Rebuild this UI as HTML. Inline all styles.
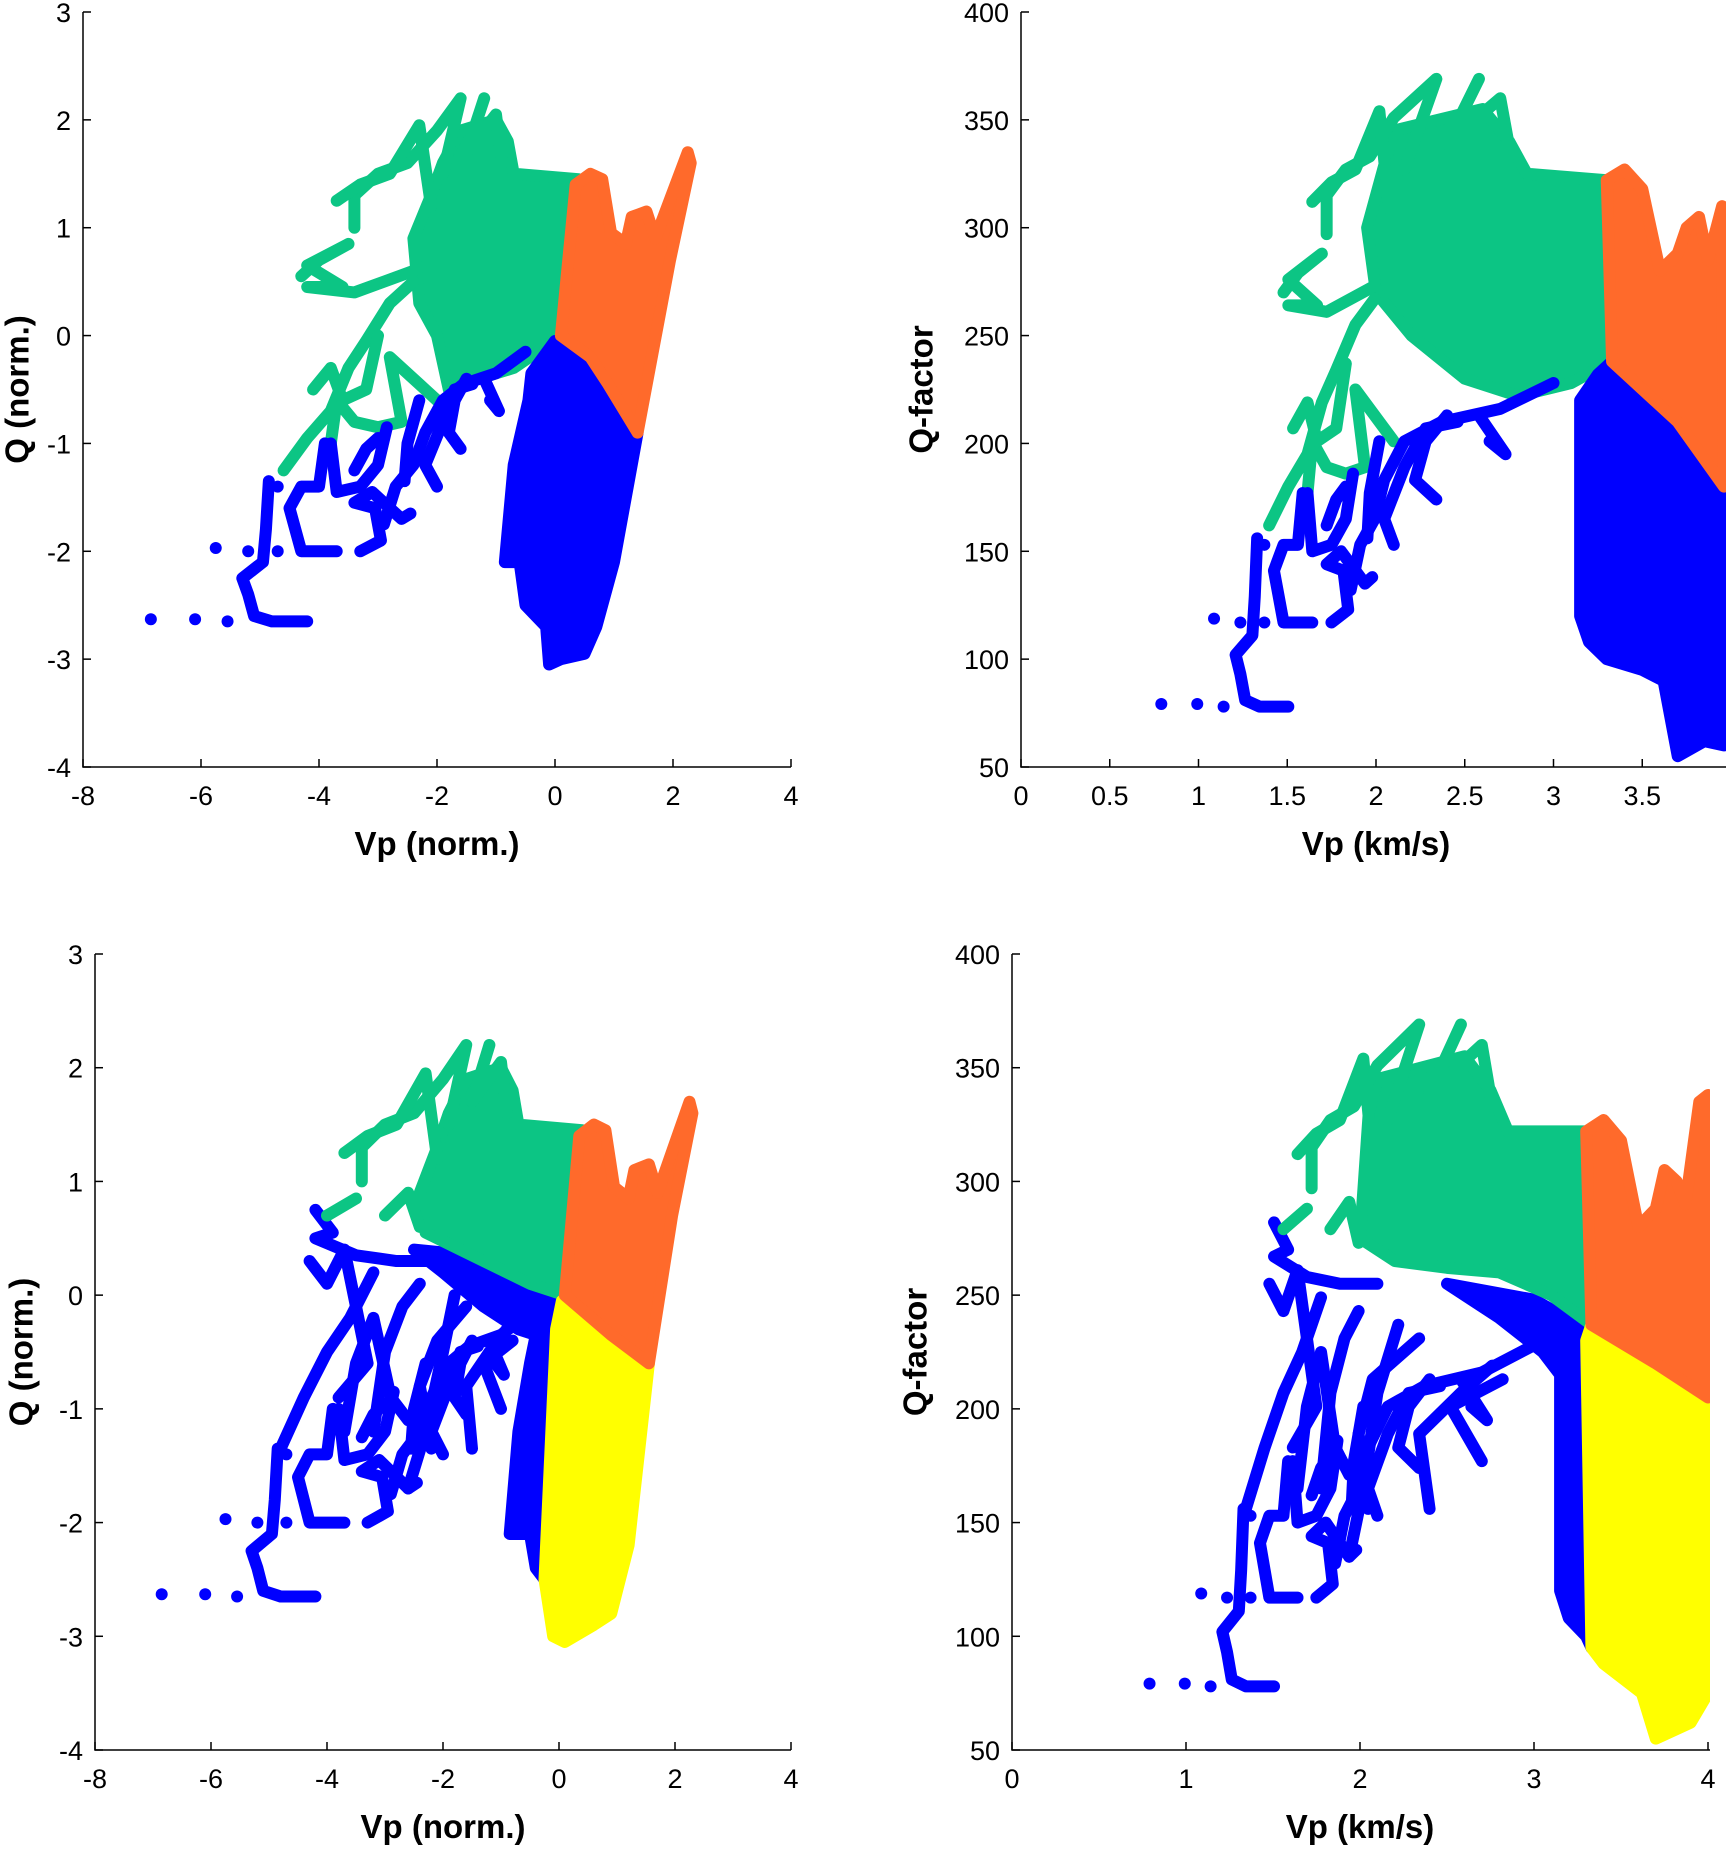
<!DOCTYPE html>
<html><head><meta charset="utf-8"><style>
html,body{margin:0;padding:0;background:#fff}
svg{display:block}
text{font-family:"Liberation Sans",Arial,sans-serif;fill:#000}
</style></head><body>
<svg id="fig" width="1733" height="1857" viewBox="0 0 1733 1857" xmlns="http://www.w3.org/2000/svg"></svg>
<script>
// ===== Data (normalized units: Vp norm, Q norm) =====
const greenPolyTop=[[-1.6,1.9],[-1.0,2.0],[-0.8,1.8],[-0.7,1.5],[0.4,1.45],[0.1,0],[-0.3,-0.15],[-0.7,-0.3],[-1.3,-0.4],[-1.8,-0.5],[-2.0,0],[-2.3,0.3],[-2.4,0.9],[-2.1,1.3],[-1.9,1.6]];
const orangePolyTop=[[0.1,0],[0.35,1.4],[0.6,1.5],[0.8,1.45],[0.95,0.95],[1.2,0.85],[1.3,1.1],[1.55,1.15],[1.7,0.9],[2.25,1.7],[2.3,1.6],[1.95,0.7],[1.4,-0.9],[0.9,-0.45],[0.6,-0.2]];
const bluePolyTop=[[0,-0.05],[0.6,-0.2],[1.4,-0.9],[1.0,-2.1],[0.7,-2.7],[0.5,-2.95],[0.1,-3.0],[-0.1,-3.05],[-0.15,-2.7],[-0.5,-2.5],[-0.6,-2.1],[-0.85,-2.1],[-0.7,-1.2],[-0.45,-0.6],[-0.4,-0.35]];
const greenTrailsTop=[
 [[-4.3,0.55],[-4.0,0.7],[-3.5,0.85],[-4.2,0.65],[-3.6,0.45],[-4.2,0.45],[-3.4,0.4],[-2.4,0.6]],
 [[-3.4,1.0],[-3.4,1.3],[-3.0,1.5],[-2.5,1.6],[-2.0,1.9],[-1.6,2.2],[-1.9,1.5]],
 [[-3.7,1.25],[-3.3,1.4],[-2.8,1.5],[-2.3,1.95],[-2.1,1.2]],
 [[-4.6,-1.25],[-4.2,-0.95],[-3.8,-0.7],[-3.5,-0.3],[-3.2,-0.05],[-2.8,0.3],[-2.4,0.5]],
 [[-3.8,-1.0],[-3.7,-0.6],[-3.4,-0.8],[-3.0,-0.85],[-2.6,-0.8],[-2.8,-0.2],[-2.2,-0.5],[-2.0,-0.6]],
 [[-4.1,-0.5],[-3.8,-0.3],[-3.6,-0.6],[-3.2,-0.5],[-3.0,0.0]],
 [[-1.2,2.2],[-1.5,1.7],[-1.0,2.05],[-0.9,1.6]]
];
const blueTrailsTop=[
 [[-4.2,-2.65],[-4.8,-2.65],[-5.1,-2.6],[-5.2,-2.4],[-5.3,-2.25],[-4.95,-2.1],[-4.9,-1.8],[-4.85,-1.35]],
 [[-3.7,-2.0],[-4.3,-2.0],[-4.5,-1.6],[-4.3,-1.4],[-4.0,-1.4],[-3.9,-1.0]],
 [[-3.8,-1.0],[-3.7,-1.45],[-3.3,-1.4],[-3.0,-1.2],[-2.85,-0.85]],
 [[-3.3,-2.0],[-2.95,-1.9],[-3.05,-1.6],[-3.4,-1.55],[-3.1,-1.45],[-2.6,-1.7],[-2.45,-1.65]],
 [[-2.9,-1.75],[-2.7,-1.4],[-2.4,-1.2],[-2.2,-0.9],[-1.9,-0.6],[-1.55,-0.45],[-1.0,-0.35],[-0.5,-0.15]],
 [[-2.0,-1.4],[-2.2,-1.2],[-1.9,-0.8],[-1.7,-0.5],[-1.4,-0.45]],
 [[-1.6,-1.05],[-1.8,-0.9],[-1.7,-0.6],[-1.5,-0.4]],
 [[-1.1,-0.6],[-0.95,-0.7],[-1.2,-0.4]],
 [[-3.0,-0.95],[-3.2,-1.05],[-3.4,-1.25]],
 [[-2.3,-0.6],[-2.5,-1.0],[-2.55,-1.35]]
];
const blueDots=[[-6.85,-2.63],[-6.1,-2.63],[-5.55,-2.65],[-5.75,-1.97],[-5.2,-2.0],[-4.7,-2.0],[-4.7,-1.4]];

const greenPolyBot=[[-1.6,1.9],[-1.0,2.0],[-0.8,1.8],[-0.7,1.5],[0.4,1.45],[0.1,0],[-0.5,0.1],[-1.5,0.35],[-2.3,0.55],[-2.4,0.9],[-2.1,1.3],[-1.9,1.6]];
const orangePolyBot=[[0.1,0],[0.35,1.4],[0.6,1.5],[0.8,1.45],[0.95,0.95],[1.2,0.85],[1.3,1.1],[1.55,1.15],[1.7,0.9],[2.25,1.7],[2.3,1.6],[1.95,0.7],[1.55,-0.6],[0.9,-0.35]];
const yellowPolyBot=[[0.05,-0.05],[0.9,-0.35],[1.55,-0.6],[1.2,-2.2],[0.9,-2.8],[0.6,-2.9],[0.1,-3.05],[-0.1,-3.0],[-0.25,-2.5],[-0.05,-0.3]];
const bluePolyBot=[[-0.05,-0.05],[-0.05,-0.3],[-0.25,-2.5],[-0.4,-2.4],[-0.5,-2.1],[-0.85,-2.1],[-0.7,-1.2],[-0.5,-0.6],[-0.4,-0.35],[-0.7,-0.3],[-1.3,-0.1],[-2.0,0.2],[-2.5,0.4],[-1.5,0.35],[-0.5,0.1]];
const greenTrailsBot=[
 [[-4.0,0.7],[-3.5,0.85]],
 [[-3.4,1.0],[-3.4,1.3],[-3.0,1.5],[-2.5,1.6],[-2.0,1.9],[-1.6,2.2],[-1.9,1.5]],
 [[-3.7,1.25],[-3.3,1.4],[-2.8,1.5],[-2.3,1.95],[-2.1,1.2]],
 [[-1.2,2.2],[-1.5,1.7],[-1.0,2.05],[-0.9,1.6]],
 [[-3.0,0.7],[-2.6,0.9],[-2.4,0.6]]
];
const blueTrailsBot=blueTrailsTop.concat([
 [[-4.2,0.75],[-3.9,0.55],[-4.2,0.5],[-3.5,0.35],[-2.8,0.3],[-2.0,0.3]],
 [[-4.8,-1.35],[-4.4,-0.9],[-4.0,-0.5],[-3.6,-0.2],[-3.2,0.2]],
 [[-3.7,-1.2],[-3.5,-0.6],[-3.2,-0.2],[-2.9,-0.9],[-2.6,-1.1]],
 [[-2.2,-1.35],[-2.4,-0.8],[-2.1,-0.4],[-1.6,-0.1]],
 [[-1.5,-1.35],[-1.6,-0.8],[-1.2,-0.5],[-0.9,-0.3]],
 [[-2.6,-1.7],[-2.3,-1.2],[-2.0,-0.5],[-1.8,0]],
 [[-3.2,-1.2],[-3.0,-0.5],[-2.7,-0.1],[-2.4,0.1]],
 [[-4.3,0.3],[-4.0,0.1],[-3.7,0.4],[-3.3,-0.6],[-3.8,-0.9]],
 [[-1.0,-1.0],[-1.3,-0.6],[-0.8,-0.4]]
]);

// ===== Physical-unit cluster outlines (Vp km/s, Q-factor) =====
const greenPolyTR=[[2.1,345],[2.6,355],[2.75,340],[2.85,325],[3.3,322],[3.32,238],[3.1,228],[2.8,222],[2.5,230],[2.2,250],[2.0,270],[1.95,300],[2.05,330]];
const orangePolyTR=[[3.3,322],[3.4,327],[3.5,318],[3.6,280],[3.7,288],[3.75,300],[3.82,305],[3.87,285],[3.95,310],[3.96,180],[3.7,210],[3.33,238]];
const bluePolyTR=[[3.33,238],[3.7,210],[3.96,182],[3.96,60],[3.85,62],[3.7,55],[3.62,90],[3.5,95],[3.3,100],[3.2,108],[3.15,120],[3.15,220],[3.25,232]];
const greenPolyBR=[[2.1,345],[2.6,355],[2.75,340],[2.85,322],[3.3,322],[3.33,237],[3.1,250],[2.8,260],[2.5,262],[2.2,265],[2.0,275],[2.05,330]];
const orangePolyBR=[[3.3,322],[3.4,327],[3.5,318],[3.6,280],[3.7,288],[3.75,305],[3.82,300],[3.87,290],[3.95,335],[4.0,338],[4.0,205],[3.7,220],[3.33,237]];
const yellowPolyBR=[[3.33,237],[3.7,220],[4.0,205],[4.0,75],[3.9,62],[3.7,55],[3.62,75],[3.4,88],[3.33,95],[3.3,230]];
const bluePolyBR=[[3.3,235],[3.33,95],[3.3,100],[3.2,108],[3.15,120],[3.15,215],[3.05,225],[2.8,240],[2.5,255],[3.0,248]];

const xTicksNorm=[-8,-6,-4,-2,0,2,4];
const yTicksNorm=[-4,-3,-2,-1,0,1,2,3];
const xTicksKmsTop=[0,0.5,1,1.5,2,2.5,3,3.5];
const xTicksKmsBot=[0,1,2,3,4];
const yTicksQ=[50,100,150,200,250,300,350,400];

// ===== conversions (normalized -> physical) for trails =====
function toKms(x){ if(x>=0) return 3.3+0.45*x; if(x>=-2) return 3.3+0.6*x; return 2.1+0.27*(x+2); }
function toQ(y){ return 237+60*y; }

const C={green:'#0CC584',orange:'#FF6A2B',blue:'#0000FF',yellow:'#FFFF00'};
const NS='http://www.w3.org/2000/svg';
const svg=document.getElementById('fig');
function mk(tag,attrs,parent){const e=document.createElementNS(NS,tag);for(const k in attrs)e.setAttribute(k,attrs[k]);(parent||svg).appendChild(e);return e;}

function panel(cfg){
  const g=mk('g',{});
  
  
  const sx=v=>cfg.px0+(v-cfg.xmin)/(cfg.xmax-cfg.xmin)*(cfg.px1-cfg.px0);
  const sy=v=>cfg.py1-(v-cfg.ymin)/(cfg.ymax-cfg.ymin)*(cfg.py1-cfg.py0);
  const txNorm=cfg.phys?(p=>[sx(toKms(p[0])),sy(toQ(p[1]))]):(p=>[sx(p[0]),sy(p[1])]);
  const txPhys=p=>[sx(p[0]),sy(p[1])];
  const clipId='clip-'+cfg.name;
  const defs=mk('defs',{},g);
  const cp=mk('clipPath',{id:clipId},defs);
  mk('rect',{x:cfg.px0,y:cfg.py0-20,width:cfg.axEnd-cfg.px0,height:cfg.py1-cfg.py0+20},cp);
  const plot=mk('g',{'clip-path':'url(#'+clipId+')'},g);
  
  
  const R=6;
  cfg.layers.forEach(L=>{
    const tx=L.phys?txPhys:txNorm;
    if(L.type==='poly'){
      const e=mk('polygon',{points:L.data.map(p=>tx(p).join(',')).join(' '),fill:L.col,stroke:L.col,'stroke-width':2*R,'stroke-linejoin':'round'},plot);
      
      
    } else if(L.type==='trails'){
      L.data.forEach(t=>{
        const e=mk('polyline',{points:t.map(p=>tx(p).join(',')).join(' '),fill:'none',stroke:L.col,'stroke-width':2*R,'stroke-linejoin':'round','stroke-linecap':'round'},plot);
        
        
      });
    } else {
      L.data.forEach(p=>{const q=tx(p);const e=mk('circle',{cx:q[0],cy:q[1],r:R,fill:L.col},plot);
        
        });
    }
  });
  const ax=mk('path',{d:`M${cfg.px0},${cfg.py0} V${cfg.py1} H${cfg.axEnd}`,stroke:'#000','stroke-width':1.5,fill:'none'},g);
  
  
  cfg.xt.forEach(v=>{const x=sx(v);
    mk('line',{x1:x,x2:x,y1:cfg.py1,y2:cfg.py1-8,stroke:'#000','stroke-width':1.5},g);
    const t=mk('text',{x:x,y:cfg.py1+38,'text-anchor':'middle','font-size':27},g);t.textContent=String(v);
    
    });
  cfg.yt.forEach(v=>{const y=sy(v);
    mk('line',{x1:cfg.px0,x2:cfg.px0+8,y1:y,y2:y,stroke:'#000','stroke-width':1.5},g);
    const t=mk('text',{x:cfg.px0-12,y:y+10,'text-anchor':'end','font-size':27},g);t.textContent=String(v);
    
    });
  const xt=mk('text',{x:(cfg.px0+cfg.px1)/2,y:cfg.py1+88,'text-anchor':'middle','font-size':33,'font-weight':'bold'},g);
  xt.textContent=cfg.xlabel;
  
  
  const yc=(cfg.py0+cfg.py1)/2;
  const yt=mk('text',{x:cfg.ylx,y:yc,'text-anchor':'middle','font-size':33,'font-weight':'bold',transform:`rotate(-90 ${cfg.ylx} ${yc})`,'dominant-baseline':'middle'},g);
  yt.textContent=cfg.ylabel;
  
  
}

const topLeftLayers=[
 {type:'poly',data:greenPolyTop,col:C.green,nm:'cluster-green'},
 {type:'trails',data:greenTrailsTop,col:C.green,nm:'cluster-green-trail'},
 {type:'trails',data:blueTrailsTop,col:C.blue,nm:'cluster-blue-trail'},
 {type:'dots',data:blueDots,col:C.blue,nm:'cluster-blue-point'},
 {type:'poly',data:bluePolyTop,col:C.blue,nm:'cluster-blue'},
 {type:'poly',data:orangePolyTop,col:C.orange,nm:'cluster-orange'}
];
const topRightLayers=[
 {type:'poly',data:greenPolyTR,col:C.green,nm:'cluster-green',phys:true},
 {type:'trails',data:greenTrailsTop,col:C.green,nm:'cluster-green-trail'},
 {type:'trails',data:blueTrailsTop,col:C.blue,nm:'cluster-blue-trail'},
 {type:'dots',data:blueDots,col:C.blue,nm:'cluster-blue-point'},
 {type:'poly',data:bluePolyTR,col:C.blue,nm:'cluster-blue',phys:true},
 {type:'poly',data:orangePolyTR,col:C.orange,nm:'cluster-orange',phys:true}
];
const botLeftLayers=[
 {type:'trails',data:blueTrailsBot,col:C.blue,nm:'cluster-blue-trail'},
 {type:'dots',data:blueDots,col:C.blue,nm:'cluster-blue-point'},
 {type:'poly',data:bluePolyBot,col:C.blue,nm:'cluster-blue'},
 {type:'poly',data:greenPolyBot,col:C.green,nm:'cluster-green'},
 {type:'trails',data:greenTrailsBot,col:C.green,nm:'cluster-green-trail'},
 {type:'poly',data:yellowPolyBot,col:C.yellow,nm:'cluster-yellow'},
 {type:'poly',data:orangePolyBot,col:C.orange,nm:'cluster-orange'}
];
const botRightLayers=[
 {type:'trails',data:blueTrailsBot,col:C.blue,nm:'cluster-blue-trail'},
 {type:'dots',data:blueDots,col:C.blue,nm:'cluster-blue-point'},
 {type:'poly',data:bluePolyBR,col:C.blue,nm:'cluster-blue',phys:true},
 {type:'poly',data:greenPolyBR,col:C.green,nm:'cluster-green',phys:true},
 {type:'trails',data:greenTrailsBot,col:C.green,nm:'cluster-green-trail'},
 {type:'poly',data:yellowPolyBR,col:C.yellow,nm:'cluster-yellow',phys:true},
 {type:'poly',data:orangePolyBR,col:C.orange,nm:'cluster-orange',phys:true}
];

panel({name:'panel-top-left',px0:83,px1:791,axEnd:791,py0:12,py1:767,xmin:-8,xmax:4,ymin:-4,ymax:3,xt:xTicksNorm,yt:yTicksNorm,xlabel:'Vp (norm.)',ylabel:'Q (norm.)',ylx:20,phys:false,layers:topLeftLayers});
panel({name:'panel-top-right',px0:1021,px1:1731,axEnd:1726,py0:12,py1:767,xmin:0,xmax:4,ymin:50,ymax:400,xt:xTicksKmsTop,yt:yTicksQ,xlabel:'Vp (km/s)',ylabel:'Q-factor',ylx:924,phys:true,layers:topRightLayers});
panel({name:'panel-bottom-left',px0:95,px1:791,axEnd:791,py0:954,py1:1750,xmin:-8,xmax:4,ymin:-4,ymax:3,xt:xTicksNorm,yt:yTicksNorm,xlabel:'Vp (norm.)',ylabel:'Q (norm.)',ylx:24,phys:false,layers:botLeftLayers});
panel({name:'panel-bottom-right',px0:1012,px1:1708,axEnd:1710,py0:954,py1:1750,xmin:0,xmax:4,ymin:50,ymax:400,xt:xTicksKmsBot,yt:yTicksQ,xlabel:'Vp (km/s)',ylabel:'Q-factor',ylx:918,phys:true,layers:botRightLayers});
</script>
</body></html>
